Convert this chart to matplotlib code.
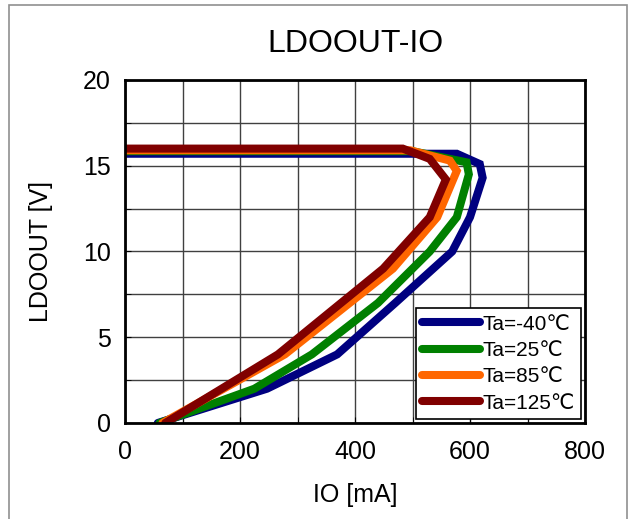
import matplotlib
matplotlib.use('Agg')
import matplotlib.pyplot as plt
from matplotlib.patches import Rectangle

plt.rcParams['font.family'] = ['Liberation Sans', 'DejaVu Sans']

# IO [mA] vs LDOOUT [V] for each ambient temperature
io_m40 = [57, 247, 369, 470, 569, 600, 622, 617, 577, 0]
v_m40 = [0, 2, 4, 7, 10, 12, 14.3, 15.1, 15.7, 15.7]
io_25 = [60, 225, 325, 440, 530, 577, 598, 594, 500, 0]
v_25 = [0, 2, 4, 7, 10, 12, 14.5, 15.2, 15.85, 15.85]
io_85 = [65, 278, 466, 543, 577, 565, 496, 0]
v_85 = [0, 4, 9, 12, 14.7, 15.3, 15.9, 15.9]
io_125 = [70, 266, 449, 530, 558, 530, 483, 0]
v_125 = [0, 4, 9, 12, 14.2, 15.4, 16.0, 16.0]

labels = ['Ta=-40\u2103', 'Ta=25\u2103', 'Ta=85\u2103', 'Ta=125\u2103']
colors = ['#000080', '#008000', '#FF6600', '#800000']

fig = plt.figure(figsize=(6.28, 5.19), dpi=100)
ax = fig.add_axes([125/628, 1-423/519, 460/628, 343/519])

# rahmen um die ganze grafik
fig.patches.append(Rectangle((9/628, -0.01), 618/628, 1-5/519+0.01,
                             transform=fig.transFigure, fill=False,
                             edgecolor='#909090', linewidth=1.2))

data = [(io_m40, v_m40), (io_25, v_25), (io_85, v_85), (io_125, v_125)]
for (x, y), lab, c in zip(data, labels, colors):
    ax.plot(x, y, color=c, linewidth=5.8, label=lab,
            solid_capstyle='round', solid_joinstyle='miter')

ax.set_xlim(0, 800)
ax.set_ylim(0, 20)
ax.set_xticks([0, 200, 400, 600, 800])
ax.set_xticks(range(0, 801, 100), minor=True)
ax.set_yticks([0, 5, 10, 15, 20])
ax.set_yticks([2.5, 7.5, 12.5, 17.5], minor=True)
ax.grid(True, which='both', color='#404040', linewidth=1.0)
ax.tick_params(which='both', direction='in', length=4, labelsize=18, pad=10)
ax.tick_params(axis='x', pad=12)
for s in ax.spines.values():
    s.set_linewidth(2)

ax.set_title('LDOOUT-IO', fontsize=23, pad=20)
ax.set_xlabel('IO [mA]', fontsize=18, labelpad=14)
ax.set_ylabel('LDOOUT [V]', fontsize=18, labelpad=22)

leg = ax.legend(loc='lower right', fontsize=15, handlelength=2.8,
                handletextpad=0.1, labelspacing=0.35, borderaxespad=0.2,
                fancybox=False, framealpha=1, edgecolor='black',
                borderpad=0.3)
leg.get_frame().set_linewidth(1.2)

fig.savefig('out.png', dpi=100)
